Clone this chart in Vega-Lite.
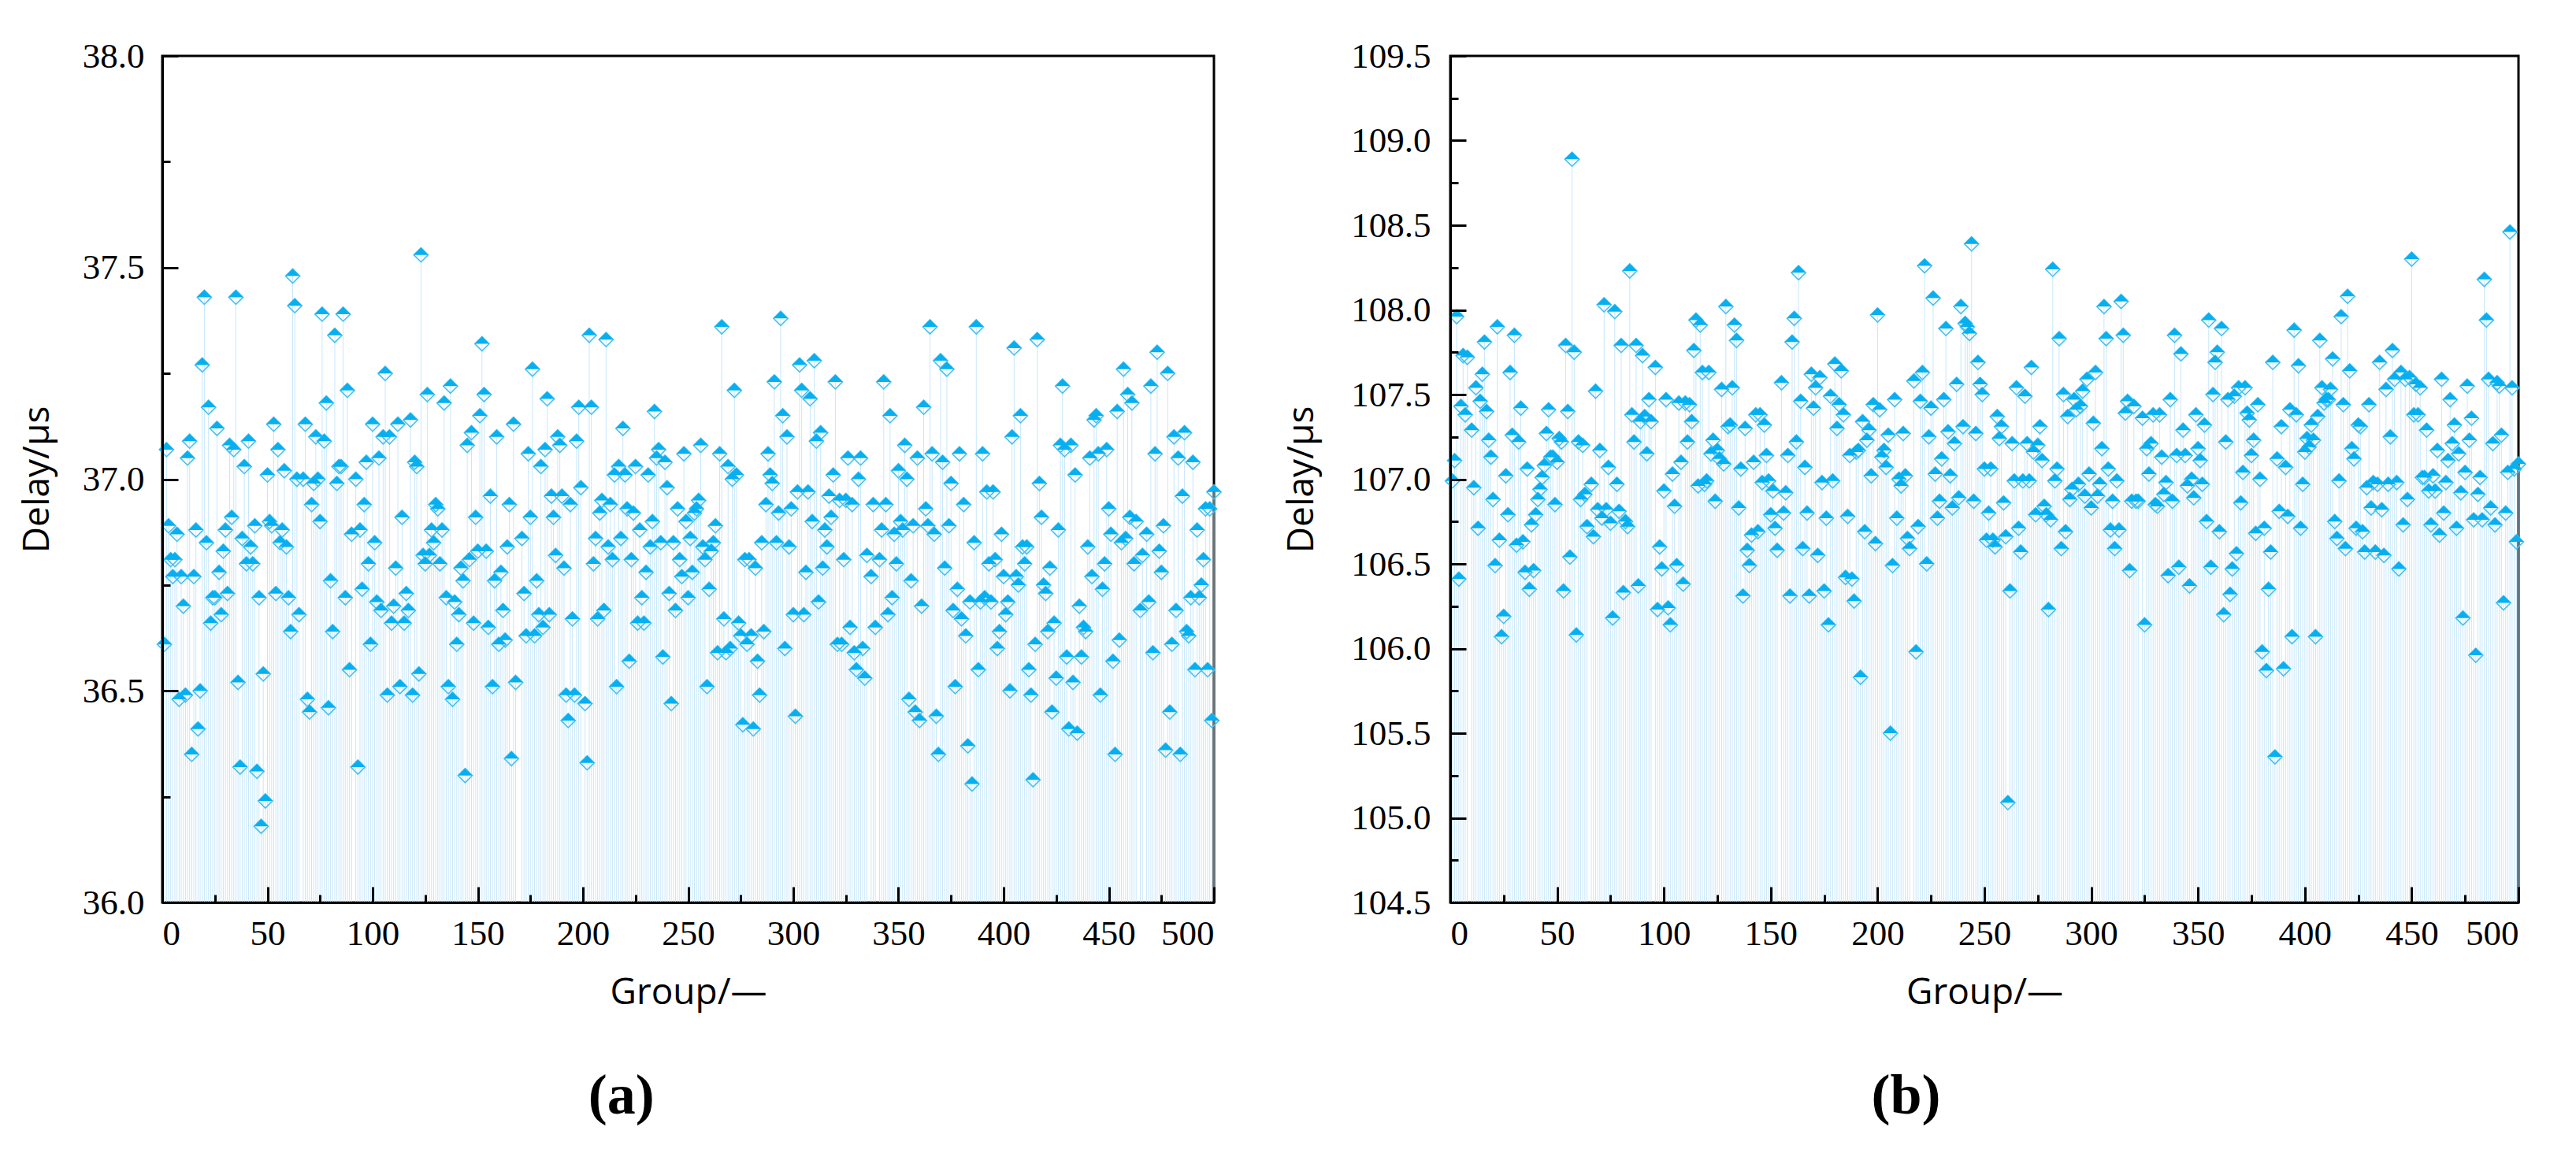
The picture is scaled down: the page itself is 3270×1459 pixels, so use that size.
{
  "$schema": "https://vega.github.io/schema/vega-lite/v6.json",
  "background": "white",
  "padding": {"left": 22, "top": 47, "right": 0, "bottom": 0},
  "spacing": 73,
  "datasets": {
    "a": [
      {"g":1,"v":36.61},{"g":2,"v":37.07},{"g":3,"v":36.89},{"g":4,"v":36.81},{"g":5,"v":36.77},{"g":6,"v":36.81},{"g":7,"v":36.87},{"g":8,"v":36.48},{"g":9,"v":36.77},{"g":10,"v":36.70},
      {"g":11,"v":36.49},{"g":12,"v":37.05},{"g":13,"v":37.09},{"g":14,"v":36.35},{"g":15,"v":36.77},{"g":16,"v":36.88},{"g":17,"v":36.41},{"g":18,"v":36.50},{"g":19,"v":37.27},{"g":20,"v":37.43},
      {"g":21,"v":36.85},{"g":22,"v":37.17},{"g":23,"v":36.66},{"g":24,"v":36.72},{"g":25,"v":36.72},{"g":26,"v":37.12},{"g":27,"v":36.78},{"g":28,"v":36.68},{"g":29,"v":36.83},{"g":30,"v":36.88},
      {"g":31,"v":36.73},{"g":32,"v":37.08},{"g":33,"v":36.91},{"g":34,"v":37.07},{"g":35,"v":37.43},{"g":36,"v":36.52},{"g":37,"v":36.32},{"g":38,"v":36.86},{"g":39,"v":37.03},{"g":40,"v":36.80},
      {"g":41,"v":37.09},{"g":42,"v":36.84},{"g":43,"v":36.80},{"g":44,"v":36.89},{"g":45,"v":36.31},{"g":46,"v":36.72},{"g":47,"v":36.18},{"g":48,"v":36.54},{"g":49,"v":36.24},{"g":50,"v":37.01},
      {"g":51,"v":36.90},{"g":52,"v":36.89},{"g":53,"v":37.13},{"g":54,"v":36.73},{"g":55,"v":37.07},{"g":56,"v":36.85},{"g":57,"v":36.88},{"g":58,"v":37.02},{"g":59,"v":36.84},{"g":60,"v":36.72},
      {"g":61,"v":36.64},{"g":62,"v":37.48},{"g":63,"v":37.41},{"g":64,"v":37.00},{"g":65,"v":36.68},{"g":67,"v":37.00},{"g":68,"v":37.13},{"g":69,"v":36.48},{"g":70,"v":36.45},
      {"g":71,"v":36.94},{"g":72,"v":36.99},{"g":73,"v":37.10},{"g":74,"v":37.00},{"g":75,"v":36.90},{"g":76,"v":37.39},{"g":77,"v":37.09},{"g":78,"v":37.18},{"g":79,"v":36.46},{"g":80,"v":36.76},
      {"g":81,"v":36.64},{"g":82,"v":37.34},{"g":83,"v":36.99},{"g":84,"v":37.03},{"g":85,"v":37.03},{"g":86,"v":37.39},{"g":87,"v":36.72},{"g":88,"v":37.21},{"g":89,"v":36.55},{"g":90,"v":36.87},
      {"g":92,"v":37.00},{"g":93,"v":36.32},{"g":94,"v":36.88},{"g":95,"v":36.74},{"g":96,"v":36.94},{"g":97,"v":37.04},{"g":98,"v":36.80},{"g":99,"v":36.61},{"g":100,"v":37.13},
      {"g":101,"v":36.85},{"g":102,"v":36.71},{"g":103,"v":37.05},{"g":104,"v":36.69},{"g":105,"v":37.10},{"g":106,"v":37.25},{"g":107,"v":36.49},{"g":108,"v":37.10},{"g":109,"v":36.66},{"g":110,"v":36.70},
      {"g":111,"v":36.79},{"g":112,"v":37.13},{"g":113,"v":36.51},{"g":114,"v":36.91},{"g":115,"v":36.66},{"g":116,"v":36.73},{"g":117,"v":36.69},{"g":118,"v":37.14},{"g":119,"v":36.49},{"g":120,"v":37.04},
      {"g":121,"v":37.03},{"g":122,"v":36.54},{"g":123,"v":37.53},{"g":124,"v":36.82},{"g":125,"v":36.80},{"g":126,"v":37.20},{"g":127,"v":36.82},{"g":128,"v":36.88},{"g":129,"v":36.85},{"g":130,"v":36.94},
      {"g":131,"v":36.93},{"g":132,"v":36.80},{"g":133,"v":36.88},{"g":134,"v":37.18},{"g":135,"v":36.72},{"g":136,"v":36.51},{"g":137,"v":37.22},{"g":138,"v":36.48},{"g":139,"v":36.71},{"g":140,"v":36.61},
      {"g":141,"v":36.68},{"g":142,"v":36.79},{"g":143,"v":36.76},{"g":144,"v":36.30},{"g":145,"v":37.08},{"g":146,"v":36.81},{"g":147,"v":37.11},{"g":148,"v":36.66},{"g":149,"v":36.91},{"g":150,"v":36.83},
      {"g":151,"v":37.15},{"g":152,"v":37.32},{"g":153,"v":37.20},{"g":154,"v":36.83},{"g":155,"v":36.65},{"g":156,"v":36.96},{"g":157,"v":36.51},{"g":158,"v":36.76},{"g":159,"v":37.10},{"g":160,"v":36.61},
      {"g":161,"v":36.78},{"g":162,"v":36.69},{"g":163,"v":36.62},{"g":164,"v":36.84},{"g":165,"v":36.94},{"g":166,"v":36.34},{"g":167,"v":37.13},{"g":168,"v":36.52},
      {"g":171,"v":36.86},{"g":172,"v":36.73},{"g":173,"v":36.63},{"g":174,"v":37.06},{"g":175,"v":36.91},{"g":176,"v":37.26},{"g":177,"v":36.63},{"g":178,"v":36.76},{"g":179,"v":36.68},{"g":180,"v":37.03},
      {"g":181,"v":36.65},{"g":182,"v":37.07},{"g":183,"v":37.19},{"g":184,"v":36.68},{"g":185,"v":36.96},{"g":186,"v":36.91},{"g":187,"v":36.82},{"g":188,"v":37.10},{"g":189,"v":37.08},{"g":190,"v":36.96},
      {"g":191,"v":36.79},{"g":192,"v":36.49},{"g":193,"v":36.43},{"g":194,"v":36.94},{"g":195,"v":36.67},{"g":196,"v":36.49},{"g":197,"v":37.09},{"g":198,"v":37.17},{"g":199,"v":36.98},
      {"g":201,"v":36.47},{"g":202,"v":36.33},{"g":203,"v":37.34},{"g":204,"v":37.17},{"g":205,"v":36.80},{"g":206,"v":36.86},{"g":207,"v":36.67},{"g":208,"v":36.92},{"g":209,"v":36.95},{"g":210,"v":36.69},
      {"g":211,"v":37.33},{"g":212,"v":36.84},{"g":213,"v":36.94},{"g":214,"v":36.81},{"g":215,"v":37.01},{"g":216,"v":36.51},{"g":217,"v":37.03},{"g":218,"v":36.86},{"g":219,"v":37.12},{"g":220,"v":37.01},
      {"g":221,"v":36.93},{"g":222,"v":36.57},{"g":223,"v":36.81},{"g":224,"v":36.92},{"g":225,"v":37.03},{"g":226,"v":36.66},{"g":227,"v":36.88},{"g":228,"v":36.72},{"g":229,"v":36.66},{"g":230,"v":36.78},
      {"g":231,"v":37.01},{"g":232,"v":36.84},{"g":233,"v":36.90},{"g":234,"v":37.16},{"g":235,"v":37.05},{"g":236,"v":37.07},{"g":237,"v":36.85},{"g":238,"v":36.58},{"g":239,"v":37.04},{"g":240,"v":36.98},
      {"g":241,"v":36.73},{"g":242,"v":36.47},{"g":243,"v":36.85},{"g":244,"v":36.69},{"g":245,"v":36.93},{"g":246,"v":36.81},{"g":247,"v":36.77},{"g":248,"v":37.06},{"g":249,"v":36.90},{"g":250,"v":36.72},
      {"g":251,"v":36.86},{"g":252,"v":36.78},{"g":253,"v":36.92},{"g":254,"v":36.93},{"g":255,"v":36.95},{"g":256,"v":37.08},{"g":257,"v":36.84},{"g":258,"v":36.81},{"g":259,"v":36.51},{"g":260,"v":36.74},
      {"g":261,"v":36.83},{"g":262,"v":36.85},{"g":263,"v":36.89},{"g":264,"v":36.59},{"g":265,"v":37.06},{"g":266,"v":37.36},{"g":267,"v":36.67},{"g":268,"v":36.59},{"g":269,"v":37.03},{"g":270,"v":36.60},
      {"g":271,"v":37.00},{"g":272,"v":37.21},{"g":273,"v":37.01},{"g":274,"v":36.66},{"g":275,"v":36.63},{"g":276,"v":36.42},{"g":277,"v":36.81},{"g":278,"v":36.61},{"g":279,"v":36.81},{"g":280,"v":36.63},
      {"g":281,"v":36.41},{"g":282,"v":36.79},{"g":283,"v":36.57},{"g":284,"v":36.49},{"g":285,"v":36.85},{"g":286,"v":36.64},{"g":287,"v":36.94},{"g":288,"v":37.06},{"g":289,"v":37.01},{"g":290,"v":36.99},
      {"g":291,"v":37.23},{"g":292,"v":36.85},{"g":293,"v":36.92},{"g":294,"v":37.38},{"g":295,"v":37.15},{"g":296,"v":36.60},{"g":297,"v":37.10},{"g":298,"v":36.84},{"g":299,"v":36.93},{"g":300,"v":36.68},
      {"g":301,"v":36.44},{"g":302,"v":36.97},{"g":303,"v":37.27},{"g":304,"v":37.21},{"g":305,"v":36.68},{"g":306,"v":36.78},{"g":307,"v":36.97},{"g":308,"v":37.19},{"g":309,"v":36.90},{"g":310,"v":37.28},
      {"g":311,"v":37.09},{"g":312,"v":36.71},{"g":313,"v":37.11},{"g":314,"v":36.79},{"g":315,"v":36.88},{"g":316,"v":36.84},{"g":317,"v":36.96},{"g":318,"v":36.91},{"g":319,"v":37.01},{"g":320,"v":37.23},
      {"g":321,"v":36.61},{"g":322,"v":36.95},{"g":323,"v":36.61},{"g":324,"v":36.81},{"g":325,"v":36.95},{"g":326,"v":37.05},{"g":327,"v":36.65},{"g":328,"v":36.94},{"g":329,"v":36.59},{"g":330,"v":36.55},
      {"g":331,"v":37.00},{"g":332,"v":37.05},{"g":333,"v":36.60},{"g":334,"v":36.53},{"g":335,"v":36.82},{"g":337,"v":36.77},{"g":338,"v":36.94},{"g":339,"v":36.65},{"g":341,"v":36.81},{"g":342,"v":36.88},
      {"g":343,"v":37.23},{"g":344,"v":36.94},{"g":345,"v":36.68},{"g":346,"v":37.15},{"g":347,"v":36.72},{"g":348,"v":36.87},{"g":349,"v":36.80},{"g":350,"v":37.02},
      {"g":351,"v":36.90},{"g":352,"v":36.88},{"g":353,"v":37.08},{"g":354,"v":37.00},{"g":355,"v":36.48},{"g":356,"v":36.76},{"g":357,"v":36.89},{"g":358,"v":36.45},{"g":359,"v":37.05},{"g":360,"v":36.43},
      {"g":361,"v":36.70},{"g":362,"v":37.17},{"g":363,"v":36.93},{"g":364,"v":36.89},{"g":365,"v":37.36},{"g":366,"v":37.06},{"g":367,"v":36.87},{"g":368,"v":36.44},{"g":369,"v":36.35},{"g":370,"v":37.28},
      {"g":371,"v":37.04},{"g":372,"v":36.79},{"g":373,"v":37.26},{"g":374,"v":36.89},{"g":375,"v":36.99},{"g":376,"v":36.69},{"g":377,"v":36.51},{"g":378,"v":36.74},{"g":379,"v":37.06},{"g":380,"v":36.67},
      {"g":381,"v":36.94},{"g":382,"v":36.63},{"g":383,"v":36.37},{"g":384,"v":36.71},{"g":385,"v":36.28},{"g":386,"v":36.85},{"g":387,"v":37.36},{"g":388,"v":36.55},{"g":389,"v":36.71},{"g":390,"v":37.06},
      {"g":391,"v":36.72},{"g":392,"v":36.97},{"g":393,"v":36.80},{"g":394,"v":36.71},{"g":395,"v":36.97},{"g":396,"v":36.81},{"g":397,"v":36.60},{"g":398,"v":36.64},{"g":399,"v":36.87},{"g":400,"v":36.77},
      {"g":401,"v":36.68},{"g":402,"v":36.71},{"g":403,"v":36.50},{"g":404,"v":37.10},{"g":405,"v":37.31},{"g":406,"v":36.77},{"g":407,"v":36.75},{"g":408,"v":37.15},{"g":409,"v":36.84},{"g":410,"v":36.80},
      {"g":411,"v":36.84},{"g":412,"v":36.55},{"g":413,"v":36.49},{"g":414,"v":36.29},{"g":415,"v":36.61},{"g":416,"v":37.33},{"g":417,"v":36.99},{"g":418,"v":36.91},{"g":419,"v":36.75},{"g":420,"v":36.73},
      {"g":421,"v":36.64},{"g":422,"v":36.79},{"g":423,"v":36.45},{"g":424,"v":36.66},{"g":425,"v":36.53},{"g":426,"v":36.88},{"g":427,"v":37.08},{"g":428,"v":37.22},{"g":429,"v":37.07},{"g":430,"v":36.58},
      {"g":431,"v":36.41},{"g":432,"v":37.08},{"g":433,"v":36.52},{"g":434,"v":37.01},{"g":435,"v":36.40},{"g":436,"v":36.70},{"g":437,"v":36.58},{"g":438,"v":36.65},{"g":439,"v":36.64},{"g":440,"v":36.84},
      {"g":441,"v":37.05},{"g":442,"v":36.77},{"g":443,"v":37.14},{"g":444,"v":37.15},{"g":445,"v":37.06},{"g":446,"v":36.49},{"g":447,"v":36.74},{"g":448,"v":36.80},{"g":449,"v":37.07},{"g":450,"v":36.93},
      {"g":451,"v":36.87},{"g":452,"v":36.57},{"g":453,"v":36.35},{"g":454,"v":37.16},{"g":455,"v":36.62},{"g":456,"v":36.85},{"g":457,"v":37.26},{"g":458,"v":36.86},{"g":459,"v":37.20},{"g":460,"v":36.91},
      {"g":461,"v":37.18},{"g":462,"v":36.80},{"g":463,"v":36.90},{"g":465,"v":36.69},{"g":466,"v":36.82},{"g":468,"v":36.87},{"g":469,"v":36.71},{"g":470,"v":37.22},
      {"g":471,"v":36.59},{"g":472,"v":37.06},{"g":473,"v":37.30},{"g":474,"v":36.83},{"g":475,"v":36.78},{"g":476,"v":36.89},{"g":477,"v":36.36},{"g":478,"v":37.25},{"g":479,"v":36.45},{"g":480,"v":36.61},
      {"g":481,"v":37.10},{"g":482,"v":36.69},{"g":483,"v":37.05},{"g":484,"v":36.35},{"g":485,"v":36.96},{"g":486,"v":37.11},{"g":487,"v":36.64},{"g":488,"v":36.63},{"g":489,"v":36.72},{"g":490,"v":37.04},
      {"g":491,"v":36.55},{"g":492,"v":36.88},{"g":493,"v":36.72},{"g":494,"v":36.75},{"g":495,"v":36.81},{"g":496,"v":36.93},{"g":497,"v":36.55},{"g":498,"v":36.93},{"g":499,"v":36.43},{"g":500,"v":36.97}
    ],
    "b": [
      {"g":1,"v":106.99},{"g":2,"v":107.11},{"g":3,"v":107.96},{"g":4,"v":106.41},{"g":5,"v":107.43},{"g":6,"v":107.73},{"g":7,"v":107.38},{"g":8,"v":107.72},{"g":10,"v":107.29},
      {"g":11,"v":106.95},{"g":12,"v":107.54},{"g":13,"v":106.71},{"g":14,"v":107.46},{"g":15,"v":107.62},{"g":16,"v":107.81},{"g":17,"v":107.40},{"g":18,"v":107.23},{"g":19,"v":107.13},{"g":20,"v":106.88},
      {"g":21,"v":106.49},{"g":22,"v":107.90},{"g":23,"v":106.64},{"g":24,"v":106.07},{"g":25,"v":106.19},{"g":26,"v":107.02},{"g":27,"v":106.79},{"g":28,"v":107.63},{"g":29,"v":107.26},{"g":30,"v":107.85},
      {"g":31,"v":106.61},{"g":32,"v":107.22},{"g":33,"v":107.42},{"g":34,"v":106.63},{"g":35,"v":106.45},{"g":36,"v":107.06},{"g":37,"v":106.35},{"g":38,"v":106.73},{"g":39,"v":106.46},{"g":40,"v":106.79},
      {"g":41,"v":106.88},{"g":42,"v":106.94},{"g":43,"v":107.01},{"g":44,"v":107.08},{"g":45,"v":107.27},{"g":46,"v":107.41},{"g":47,"v":107.13},{"g":48,"v":107.13},{"g":49,"v":106.85},{"g":50,"v":107.10},
      {"g":51,"v":107.24},{"g":52,"v":107.22},{"g":53,"v":106.34},{"g":54,"v":107.79},{"g":55,"v":107.40},{"g":56,"v":106.54},{"g":57,"v":108.89},{"g":58,"v":107.75},{"g":59,"v":106.08},{"g":60,"v":107.22},
      {"g":61,"v":106.88},{"g":62,"v":107.20},{"g":63,"v":106.91},{"g":64,"v":106.72},{"g":66,"v":106.97},{"g":67,"v":106.66},{"g":68,"v":107.52},{"g":69,"v":106.82},{"g":70,"v":107.17},
      {"g":71,"v":106.77},{"g":72,"v":108.03},{"g":73,"v":106.82},{"g":74,"v":107.07},{"g":75,"v":106.74},{"g":76,"v":106.18},{"g":77,"v":107.99},{"g":78,"v":106.97},{"g":79,"v":106.81},{"g":80,"v":107.79},
      {"g":81,"v":106.33},{"g":82,"v":106.75},{"g":83,"v":106.72},{"g":84,"v":108.23},{"g":85,"v":107.38},{"g":86,"v":107.22},{"g":87,"v":107.79},{"g":88,"v":106.37},{"g":89,"v":107.34},{"g":90,"v":107.73},
      {"g":91,"v":107.37},{"g":92,"v":107.15},{"g":93,"v":107.47},{"g":94,"v":107.34},{"g":96,"v":107.66},{"g":97,"v":106.23},{"g":98,"v":106.60},{"g":99,"v":106.47},{"g":100,"v":106.93},
      {"g":101,"v":107.47},{"g":102,"v":106.24},{"g":103,"v":106.14},{"g":104,"v":107.03},{"g":105,"v":106.84},{"g":106,"v":106.49},{"g":107,"v":107.45},{"g":108,"v":107.10},{"g":109,"v":106.38},{"g":110,"v":107.45},
      {"g":111,"v":107.22},{"g":112,"v":107.44},{"g":113,"v":107.34},{"g":114,"v":107.76},{"g":115,"v":107.94},{"g":116,"v":106.96},{"g":117,"v":107.91},{"g":118,"v":107.63},{"g":119,"v":106.97},{"g":120,"v":106.99},
      {"g":121,"v":107.63},{"g":122,"v":107.15},{"g":123,"v":107.23},{"g":124,"v":106.87},{"g":125,"v":107.17},{"g":126,"v":107.12},{"g":127,"v":107.53},{"g":128,"v":107.09},{"g":129,"v":108.02},{"g":130,"v":107.31},
      {"g":131,"v":107.32},{"g":132,"v":107.54},{"g":133,"v":107.91},{"g":134,"v":107.82},{"g":135,"v":106.83},{"g":136,"v":107.06},{"g":137,"v":106.31},{"g":138,"v":107.30},{"g":139,"v":106.58},{"g":140,"v":106.49},
      {"g":141,"v":106.67},{"g":142,"v":107.10},{"g":143,"v":107.38},{"g":144,"v":106.69},{"g":145,"v":107.38},{"g":146,"v":106.98},{"g":147,"v":107.32},{"g":148,"v":107.14},{"g":149,"v":106.99},{"g":150,"v":106.79},
      {"g":151,"v":106.93},{"g":152,"v":106.71},{"g":153,"v":106.58},{"g":155,"v":107.57},{"g":156,"v":106.80},{"g":157,"v":106.92},{"g":158,"v":107.14},{"g":159,"v":106.31},{"g":160,"v":107.81},
      {"g":161,"v":107.95},{"g":162,"v":107.22},{"g":163,"v":108.22},{"g":164,"v":107.46},{"g":165,"v":106.59},{"g":166,"v":107.07},{"g":167,"v":106.80},{"g":168,"v":106.31},{"g":169,"v":107.62},{"g":170,"v":107.42},
      {"g":171,"v":107.54},{"g":172,"v":106.55},{"g":173,"v":107.60},{"g":174,"v":106.98},{"g":175,"v":106.34},{"g":176,"v":106.77},{"g":177,"v":106.14},{"g":178,"v":107.49},{"g":179,"v":106.99},{"g":180,"v":107.68},
      {"g":181,"v":107.30},{"g":182,"v":107.44},{"g":183,"v":107.64},{"g":184,"v":107.38},{"g":185,"v":106.42},{"g":186,"v":106.78},{"g":187,"v":107.14},{"g":188,"v":106.41},{"g":189,"v":106.28},{"g":190,"v":107.16},
      {"g":191,"v":107.17},{"g":192,"v":105.83},{"g":193,"v":107.34},{"g":194,"v":106.69},{"g":195,"v":107.23},{"g":196,"v":107.29},{"g":197,"v":107.02},{"g":198,"v":107.44},{"g":199,"v":106.62},{"g":200,"v":107.97},
      {"g":201,"v":107.41},{"g":202,"v":107.13},{"g":203,"v":107.17},{"g":204,"v":107.07},{"g":205,"v":107.26},{"g":206,"v":105.50},{"g":207,"v":106.49},{"g":208,"v":107.47},{"g":209,"v":106.77},{"g":210,"v":107.00},
      {"g":211,"v":106.96},{"g":212,"v":107.27},{"g":213,"v":107.02},{"g":214,"v":106.65},{"g":215,"v":106.59},{"g":217,"v":107.58},{"g":218,"v":105.98},{"g":219,"v":106.72},{"g":220,"v":107.46},
      {"g":221,"v":107.63},{"g":222,"v":108.26},{"g":223,"v":106.50},{"g":224,"v":107.25},{"g":225,"v":107.42},{"g":226,"v":108.07},{"g":227,"v":107.03},{"g":228,"v":106.77},{"g":229,"v":106.87},{"g":230,"v":107.12},
      {"g":231,"v":107.47},{"g":232,"v":107.89},{"g":233,"v":107.28},{"g":234,"v":107.02},{"g":235,"v":106.83},{"g":236,"v":107.21},{"g":237,"v":107.56},{"g":238,"v":106.89},{"g":239,"v":108.02},{"g":240,"v":107.31},
      {"g":241,"v":107.92},{"g":242,"v":107.90},{"g":243,"v":107.86},{"g":244,"v":108.39},{"g":245,"v":106.87},{"g":246,"v":107.27},{"g":247,"v":107.69},{"g":248,"v":107.56},{"g":249,"v":107.50},{"g":250,"v":107.06},
      {"g":251,"v":106.64},{"g":252,"v":106.80},{"g":253,"v":107.06},{"g":254,"v":106.64},{"g":255,"v":106.60},{"g":256,"v":107.37},{"g":257,"v":107.24},{"g":258,"v":107.31},{"g":259,"v":106.86},{"g":260,"v":106.66},
      {"g":261,"v":105.09},{"g":262,"v":106.34},{"g":263,"v":107.21},{"g":264,"v":106.99},{"g":265,"v":107.54},{"g":266,"v":106.71},{"g":267,"v":106.57},{"g":268,"v":106.99},{"g":269,"v":107.49},{"g":270,"v":107.21},
      {"g":271,"v":106.99},{"g":272,"v":107.66},{"g":273,"v":107.16},{"g":274,"v":106.79},{"g":275,"v":107.20},{"g":276,"v":107.31},{"g":277,"v":107.11},{"g":278,"v":106.84},{"g":279,"v":106.79},{"g":280,"v":106.23},
      {"g":281,"v":106.76},{"g":282,"v":108.24},{"g":283,"v":106.99},{"g":284,"v":107.06},{"g":285,"v":107.83},{"g":286,"v":106.59},{"g":287,"v":107.50},{"g":288,"v":106.69},{"g":289,"v":107.37},{"g":290,"v":106.88},
      {"g":291,"v":106.94},{"g":292,"v":107.47},{"g":293,"v":107.41},{"g":294,"v":106.97},{"g":295,"v":107.43},{"g":296,"v":107.52},{"g":297,"v":106.90},{"g":298,"v":107.59},{"g":299,"v":107.03},{"g":300,"v":106.83},
      {"g":301,"v":107.33},{"g":302,"v":107.63},{"g":303,"v":106.90},{"g":304,"v":106.97},{"g":305,"v":107.18},{"g":306,"v":108.02},{"g":307,"v":107.83},{"g":308,"v":107.06},{"g":309,"v":106.70},{"g":310,"v":106.87},
      {"g":311,"v":106.59},{"g":312,"v":106.99},{"g":313,"v":106.70},{"g":314,"v":108.05},{"g":315,"v":107.85},{"g":316,"v":107.39},{"g":317,"v":107.46},{"g":318,"v":106.46},{"g":319,"v":106.87},{"g":320,"v":107.43},
      {"g":321,"v":106.87},{"g":322,"v":106.87},{"g":324,"v":107.36},{"g":325,"v":106.14},{"g":326,"v":107.18},{"g":327,"v":107.03},{"g":328,"v":107.21},{"g":329,"v":107.38},{"g":330,"v":106.85},
      {"g":331,"v":106.84},{"g":332,"v":107.38},{"g":333,"v":107.13},{"g":334,"v":106.91},{"g":335,"v":106.98},{"g":336,"v":106.43},{"g":337,"v":107.47},{"g":338,"v":106.87},{"g":339,"v":107.85},{"g":340,"v":107.14},
      {"g":341,"v":106.48},{"g":342,"v":107.74},{"g":343,"v":107.29},{"g":344,"v":107.14},{"g":345,"v":106.96},{"g":346,"v":106.37},{"g":347,"v":107.00},{"g":348,"v":106.89},{"g":349,"v":107.38},{"g":350,"v":107.18},
      {"g":351,"v":107.11},{"g":352,"v":106.97},{"g":353,"v":107.32},{"g":354,"v":106.75},{"g":355,"v":107.94},{"g":356,"v":106.48},{"g":357,"v":107.50},{"g":358,"v":107.69},{"g":359,"v":107.75},{"g":360,"v":106.69},
      {"g":361,"v":107.89},{"g":362,"v":106.20},{"g":363,"v":107.22},{"g":364,"v":107.47},{"g":365,"v":106.32},{"g":366,"v":106.47},{"g":367,"v":107.49},{"g":368,"v":106.56},{"g":369,"v":107.54},{"g":370,"v":106.86},
      {"g":371,"v":107.04},{"g":372,"v":107.54},{"g":373,"v":107.39},{"g":374,"v":107.35},{"g":375,"v":107.14},{"g":376,"v":107.23},{"g":377,"v":106.68},{"g":378,"v":107.44},{"g":379,"v":107.00},{"g":380,"v":105.98},
      {"g":381,"v":106.71},{"g":382,"v":105.87},{"g":383,"v":106.35},{"g":384,"v":106.57},{"g":385,"v":107.69},{"g":386,"v":105.36},{"g":387,"v":107.12},{"g":388,"v":106.81},{"g":389,"v":107.31},{"g":390,"v":105.88},
      {"g":391,"v":107.07},{"g":392,"v":106.78},{"g":393,"v":107.41},{"g":394,"v":106.07},{"g":395,"v":107.88},{"g":396,"v":107.38},{"g":397,"v":107.67},{"g":398,"v":106.71},{"g":399,"v":106.97},{"g":400,"v":107.16},
      {"g":401,"v":107.24},{"g":402,"v":107.19},{"g":403,"v":107.32},{"g":404,"v":107.23},{"g":405,"v":106.07},{"g":406,"v":107.37},{"g":407,"v":107.82},{"g":408,"v":107.54},{"g":409,"v":107.45},{"g":410,"v":107.47},
      {"g":411,"v":107.47},{"g":412,"v":107.53},{"g":413,"v":107.71},{"g":414,"v":106.75},{"g":415,"v":106.65},{"g":416,"v":106.99},{"g":417,"v":107.96},{"g":418,"v":107.44},{"g":419,"v":106.59},{"g":420,"v":108.08},
      {"g":421,"v":107.64},{"g":422,"v":107.18},{"g":423,"v":107.12},{"g":424,"v":106.71},{"g":425,"v":107.32},{"g":426,"v":107.31},{"g":427,"v":106.69},{"g":428,"v":106.57},{"g":429,"v":106.95},{"g":430,"v":107.44},
      {"g":431,"v":106.83},{"g":432,"v":106.98},{"g":433,"v":106.57},{"g":434,"v":106.97},{"g":435,"v":107.69},{"g":436,"v":106.82},{"g":437,"v":106.55},{"g":438,"v":107.53},{"g":439,"v":106.97},{"g":440,"v":107.25},
      {"g":441,"v":107.76},{"g":442,"v":107.59},{"g":443,"v":106.98},{"g":444,"v":106.47},{"g":445,"v":107.63},{"g":446,"v":106.73},{"g":447,"v":107.59},{"g":448,"v":106.88},{"g":449,"v":107.60},{"g":450,"v":108.30},
      {"g":451,"v":107.38},{"g":452,"v":107.56},{"g":453,"v":107.38},{"g":454,"v":107.54},{"g":455,"v":107.01},{"g":456,"v":107.01},{"g":457,"v":107.29},{"g":458,"v":106.93},{"g":459,"v":106.73},{"g":460,"v":107.02},
      {"g":461,"v":106.93},{"g":462,"v":107.17},{"g":463,"v":106.67},{"g":464,"v":107.59},{"g":465,"v":106.80},{"g":466,"v":106.98},{"g":467,"v":107.11},{"g":468,"v":107.47},{"g":469,"v":107.21},{"g":470,"v":107.32},
      {"g":471,"v":106.71},{"g":472,"v":107.15},{"g":473,"v":106.92},{"g":474,"v":106.18},{"g":475,"v":107.04},{"g":476,"v":107.55},{"g":477,"v":107.23},{"g":478,"v":107.36},{"g":479,"v":106.76},{"g":480,"v":105.96},
      {"g":481,"v":106.91},{"g":482,"v":107.01},{"g":483,"v":106.76},{"g":484,"v":108.18},{"g":485,"v":107.94},{"g":486,"v":107.59},{"g":487,"v":106.83},{"g":488,"v":107.21},{"g":489,"v":106.73},{"g":490,"v":107.57},
      {"g":491,"v":107.55},{"g":492,"v":107.26},{"g":493,"v":106.27},{"g":494,"v":106.80},{"g":495,"v":107.04},{"g":496,"v":108.46},{"g":497,"v":107.54},{"g":498,"v":107.06},{"g":499,"v":106.63},{"g":500,"v":107.09}
    ]
  },
  "hconcat": [
    {
      "width": 1335,
      "height": 1075,
      "data": {"name": "a"},
      "title": {"text": "(a)", "orient": "bottom", "anchor": "middle", "frame": "bounds", "font": "Liberation Serif", "fontSize": 72, "fontWeight": "bold", "color": "black", "offset": 74},
      "encoding": {
        "x": {"field": "g", "type": "quantitative", "scale": {"domain": [0, 500], "nice": false},
          "axis": {"title": "Group/\u2014", "values": [0,25,50,75,100,125,150,175,200,225,250,275,300,325,350,375,400,425,450,475,500],
            "labelExpr": "datum.value % 50 == 0 ? datum.label : ''",
            "labelFont": "Liberation Serif", "zindex": 2,
            "tickSize": -20, "tickColor": "black", "tickWidth": 3,
            "tickDash": {"condition": {"test": "datum.value % 50 != 0", "value": [10, 30]}, "value": [30, 0]},
            "labelPadding": 37, "titlePadding": 30}},
        "y": {"field": "v", "type": "quantitative", "scale": {"domain": [36, 38], "nice": false, "zero": false},
          "axis": {"title": "Delay/\u03bcs", "values": [36,36.25,36.5,36.75,37,37.25,37.5,37.75,38],
            "labelExpr": "datum.value * 2 % 1 == 0 ? format(datum.value, '.1f') : ''",
            "labelFont": "Liberation Serif", "zindex": 2,
            "tickSize": -20, "tickColor": "black", "tickWidth": 3,
            "tickDash": {"condition": {"test": "datum.value * 2 % 1 != 0", "value": [10, 30]}, "value": [30, 0]},
            "labelPadding": 43, "titlePadding": 33}}
      },
      "layer": [
        {"mark": {"type": "rule", "color": "#c7e7fa", "strokeWidth": 1}, "encoding": {"y2": {"datum": 36}}},
        {"mark": {"type": "point", "shape": "M-1,0L0,-1L1,0L0,1Z", "filled": false, "stroke": "#45c0f2", "strokeWidth": 1.6, "size": 330, "opacity": 1}},
        {"mark": {"type": "point", "shape": "M-1,0L0,-1L1,0Z", "filled": true, "fill": "#05aff0", "strokeWidth": 0, "size": 330, "opacity": 1}}
      ]
    },
    {
      "width": 1356,
      "height": 1075,
      "data": {"name": "b"},
      "title": {"text": "(b)", "orient": "bottom", "anchor": "middle", "frame": "bounds", "font": "Liberation Serif", "fontSize": 72, "fontWeight": "bold", "color": "black", "offset": 74},
      "encoding": {
        "x": {"field": "g", "type": "quantitative", "scale": {"domain": [0, 500], "nice": false},
          "axis": {"title": "Group/\u2014", "values": [0,25,50,75,100,125,150,175,200,225,250,275,300,325,350,375,400,425,450,475,500],
            "labelExpr": "datum.value % 50 == 0 ? datum.label : ''",
            "labelFont": "Liberation Serif", "zindex": 2,
            "tickSize": -20, "tickColor": "black", "tickWidth": 3,
            "tickDash": {"condition": {"test": "datum.value % 50 != 0", "value": [10, 30]}, "value": [30, 0]},
            "labelPadding": 37, "titlePadding": 30}},
        "y": {"field": "v", "type": "quantitative", "scale": {"domain": [104.5, 109.5], "nice": false, "zero": false},
          "axis": {"title": "Delay/\u03bcs", "values": [104.5,104.75,105,105.25,105.5,105.75,106,106.25,106.5,106.75,107,107.25,107.5,107.75,108,108.25,108.5,108.75,109,109.25,109.5],
            "labelExpr": "datum.value * 2 % 1 == 0 ? format(datum.value, '.1f') : ''",
            "labelFont": "Liberation Serif", "zindex": 2,
            "tickSize": -20, "tickColor": "black", "tickWidth": 3,
            "tickDash": {"condition": {"test": "datum.value * 2 % 1 != 0", "value": [10, 30]}, "value": [30, 0]},
            "labelPadding": 45, "titlePadding": 38}}
      },
      "layer": [
        {"mark": {"type": "rule", "color": "#c7e7fa", "strokeWidth": 1}, "encoding": {"y2": {"datum": 104.5}}},
        {"mark": {"type": "point", "shape": "M-1,0L0,-1L1,0L0,1Z", "filled": false, "stroke": "#45c0f2", "strokeWidth": 1.6, "size": 330, "opacity": 1}},
        {"mark": {"type": "point", "shape": "M-1,0L0,-1L1,0Z", "filled": true, "fill": "#05aff0", "strokeWidth": 0, "size": 330, "opacity": 1}}
      ]
    }
  ],
  "config": {
    "view": {"stroke": "black", "strokeWidth": 3},
    "axis": {
      "grid": false,
      "domainColor": "black",
      "domainWidth": 3,
      "labelFont": "Liberation Serif",
      "labelFontSize": 45,
      "labelColor": "black",
      "titleFont": "Open Sans",
      "titleFontSize": 46,
      "titleFontWeight": "normal",
      "titleColor": "black"
    }
  }
}
